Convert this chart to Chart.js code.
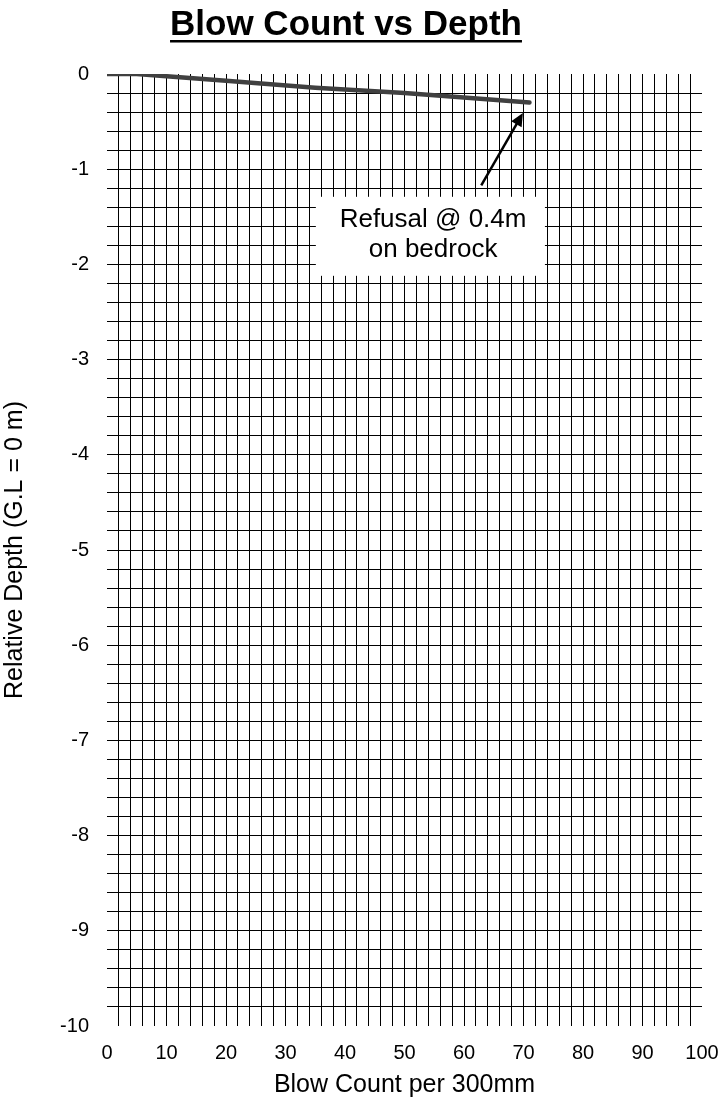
<!DOCTYPE html>
<html>
<head>
<meta charset="utf-8">
<script src="https://cdn.jsdelivr.net/npm/chart.js@4"></script>
<style>
  html, body { margin: 0; padding: 0; background: #fff; }
  canvas { display: block; }
</style>
</head>
<body>
<canvas id="c" width="722" height="1114"></canvas>
<script>
// ---- data ----
const chartTitle = 'Blow Count vs Depth';
const xAxisTitle = 'Blow Count per 300mm';
const yAxisTitle = 'Relative Depth (G.L = 0 m)';
const blowCounts = [0, 5, 20, 35, 50, 71];
const depths = [0, 0, -0.07, -0.145, -0.2, -0.3];
const annotationLines = ['Refusal @ 0.4m', 'on bedrock'];

const FONT = 'Arial, "Liberation Sans", sans-serif';

const titlePlugin = {
  id: 'customTitle',
  afterDraw(chart) {
    const ctx = chart.ctx;
    ctx.save();
    ctx.font = 'bold 35px ' + FONT;
    ctx.fillStyle = '#000';
    ctx.textAlign = 'center';
    ctx.textBaseline = 'alphabetic';
    const cx = 346, by = 35;
    ctx.fillText(chartTitle, cx, by);
    const w = ctx.measureText(chartTitle).width;
    ctx.fillRect(cx - w / 2, by + 5, w, 2.5);
    ctx.restore();
  }
};

const annotationPlugin = {
  id: 'annot',
  afterDatasetsDraw(chart) {
    const ctx = chart.ctx;
    const xs = chart.scales.x, ys = chart.scales.y;
    ctx.save();
    const l = xs.getPixelForValue(35.1), r = xs.getPixelForValue(73.6);
    const t = ys.getPixelForValue(-1.29), b = ys.getPixelForValue(-2.12);
    ctx.fillStyle = '#fff';
    ctx.fillRect(l, t, r - l, b - t);
    ctx.fillStyle = '#000';
    ctx.font = '26px ' + FONT;
    ctx.textAlign = 'center';
    ctx.textBaseline = 'middle';
    const cx = xs.getPixelForValue(54.8);
    ctx.fillText(annotationLines[0], cx, ys.getPixelForValue(-1.53));
    ctx.fillText(annotationLines[1], cx, ys.getPixelForValue(-1.85));
    const x1 = xs.getPixelForValue(62.9), y1 = ys.getPixelForValue(-1.17);
    const x2 = xs.getPixelForValue(69.9), y2 = ys.getPixelForValue(-0.41);
    const ang = Math.atan2(y2 - y1, x2 - x1);
    const hl = 13, hw = 6;
    ctx.strokeStyle = '#000';
    ctx.lineWidth = 2.5;
    ctx.beginPath();
    ctx.moveTo(x1, y1);
    ctx.lineTo(x2 - Math.cos(ang) * hl * 0.8, y2 - Math.sin(ang) * hl * 0.8);
    ctx.stroke();
    ctx.beginPath();
    ctx.moveTo(x2, y2);
    ctx.lineTo(x2 - Math.cos(ang) * hl - Math.sin(ang) * hw, y2 - Math.sin(ang) * hl + Math.cos(ang) * hw);
    ctx.lineTo(x2 - Math.cos(ang) * hl + Math.sin(ang) * hw, y2 - Math.sin(ang) * hl - Math.cos(ang) * hw);
    ctx.closePath();
    ctx.fill();
    ctx.restore();
  }
};

const bgPlugin = {
  id: 'bg',
  beforeDraw(chart) {
    const ctx = chart.ctx;
    ctx.save();
    ctx.fillStyle = '#fff';
    ctx.fillRect(0, 0, chart.width, chart.height);
    ctx.restore();
  }
};

const isMajor = (v, step) => Math.abs(v / step - Math.round(v / step)) < 1e-6;

new Chart(document.getElementById('c'), {
  type: 'scatter',
  data: {
    datasets: [{
      data: blowCounts.map((x, i) => ({ x: x, y: depths[i] })),
      showLine: true,
      borderColor: '#404040',
      borderWidth: 4.5,
      borderCapStyle: 'round',
      pointRadius: 0,
      tension: 0
    }]
  },
  options: {
    responsive: false,
    devicePixelRatio: 1,
    animation: false,
    layout: { padding: { top: 74, right: 20, left: 0, bottom: 0 } },
    plugins: { legend: { display: false }, tooltip: { enabled: false } },
    scales: {
      x: {
        type: 'linear', min: 0, max: 100,
        border: { display: false },
        grid: {
          drawTicks: false,
          lineWidth: 1,
          color: (c) => (c.tick && (c.tick.value <= 0 || c.tick.value >= 100)) ? 'rgba(0,0,0,0)' : '#000'
        },
        ticks: {
          stepSize: 2, autoSkip: false, maxRotation: 0, padding: 15,
          color: '#000', font: { family: FONT, size: 20 },
          callback: (v) => isMajor(v, 10) ? String(Math.round(v)) : ''
        },
        title: {
          display: true, text: xAxisTitle, color: '#000',
          font: { family: FONT, size: 25 }, padding: { top: 0, bottom: 14 }
        },
        afterFit(s) { s.height = 88; s.paddingLeft = 0; s.paddingRight = 0; }
      },
      y: {
        type: 'linear', min: -10, max: 0,
        border: { display: false },
        grid: {
          drawTicks: false,
          lineWidth: 1,
          color: (c) => (c.tick && (c.tick.value >= -1e-6 || c.tick.value <= -10 + 1e-6)) ? 'rgba(0,0,0,0)' : '#000'
        },
        ticks: {
          stepSize: 0.2, autoSkip: false, padding: 18,
          color: '#000', font: { family: FONT, size: 20 },
          callback: (v) => isMajor(v, 1) ? String(Math.round(v)) : ''
        },
        title: {
          display: true, text: yAxisTitle, color: '#000',
          font: { family: FONT, size: 25 }, padding: { top: 0, bottom: 0 }
        },
        afterFit(s) { s.width = 107; s.paddingTop = 0; s.paddingBottom = 0; }
      }
    }
  },
  plugins: [bgPlugin, titlePlugin, annotationPlugin]
});
</script>
</body>
</html>
